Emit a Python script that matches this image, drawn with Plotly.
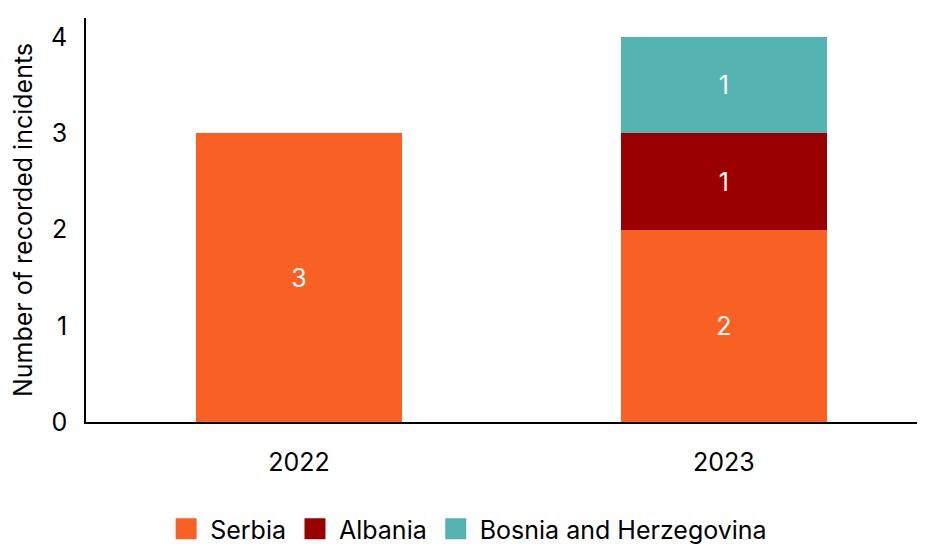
import plotly.graph_objects as go

years = ["2022", "2023"]
serbia = [3, 2]
albania = [0, 1]
bosnia = [0, 1]
series_names = ["Serbia", "Albania", "Bosnia and Herzegovina"]
colors = ["#F96124", "#9B0000", "#55B3B1"]
y_ticks = [0, 1, 2, 3, 4]

FONT = "Inter"
FS = 25

fig = go.Figure()
for name, vals, col in zip(series_names, [serbia, albania, bosnia], colors):
    fig.add_trace(go.Bar(
        name=name, x=years, y=vals, marker_color=col, marker_line_width=0,
        width=0.485, showlegend=False, legendgroup=name,
        text=[str(v) if v else "" for v in vals],
        textposition="inside", insidetextanchor="middle", textangle=0,
        textfont=dict(color="white", size=FS, family=FONT),
        hoverinfo="skip",
    ))
# legend entries (square swatches)
for name, col in zip(series_names, colors):
    fig.add_trace(go.Scatter(
        name=name, x=[None], y=[None], mode="markers", legendgroup=name,
        marker=dict(symbol="square", size=16, color=col, line=dict(color=col, width=5)),
        showlegend=True, hoverinfo="skip",
    ))

fig.update_layout(
    barmode="stack",
    width=925, height=544,
    margin=dict(l=78, r=0, t=10, b=130),
    paper_bgcolor="white", plot_bgcolor="white",
    font=dict(family=FONT, size=FS, color="black"),
    showlegend=True,
    legend=dict(orientation="h", x=0.45, xanchor="center", xref="paper",
                y=0, yanchor="bottom", yref="container", itemwidth=38,
                font=dict(size=FS, family=FONT), traceorder="normal"),
    xaxis=dict(type="category", range=[-0.501, 1.492], showline=True, linecolor="black",
               linewidth=1.5, showgrid=False, ticks="", ticklabelstandoff=17,
               tickfont=dict(size=FS), automargin=False),
    yaxis=dict(range=[0, 4.2], tickvals=y_ticks, showline=True, linecolor="black",
               linewidth=1.5, showgrid=False, zeroline=False, ticks="",
               ticklabelstandoff=12, tickfont=dict(size=FS), automargin=False,
               title=dict(text="Number of recorded incidents", font=dict(size=FS), standoff=15)),
)

fig.write_html(
    "out.html",
    post_script="document.documentElement.style.overflow='hidden';document.body.style.overflow='hidden';",
)
